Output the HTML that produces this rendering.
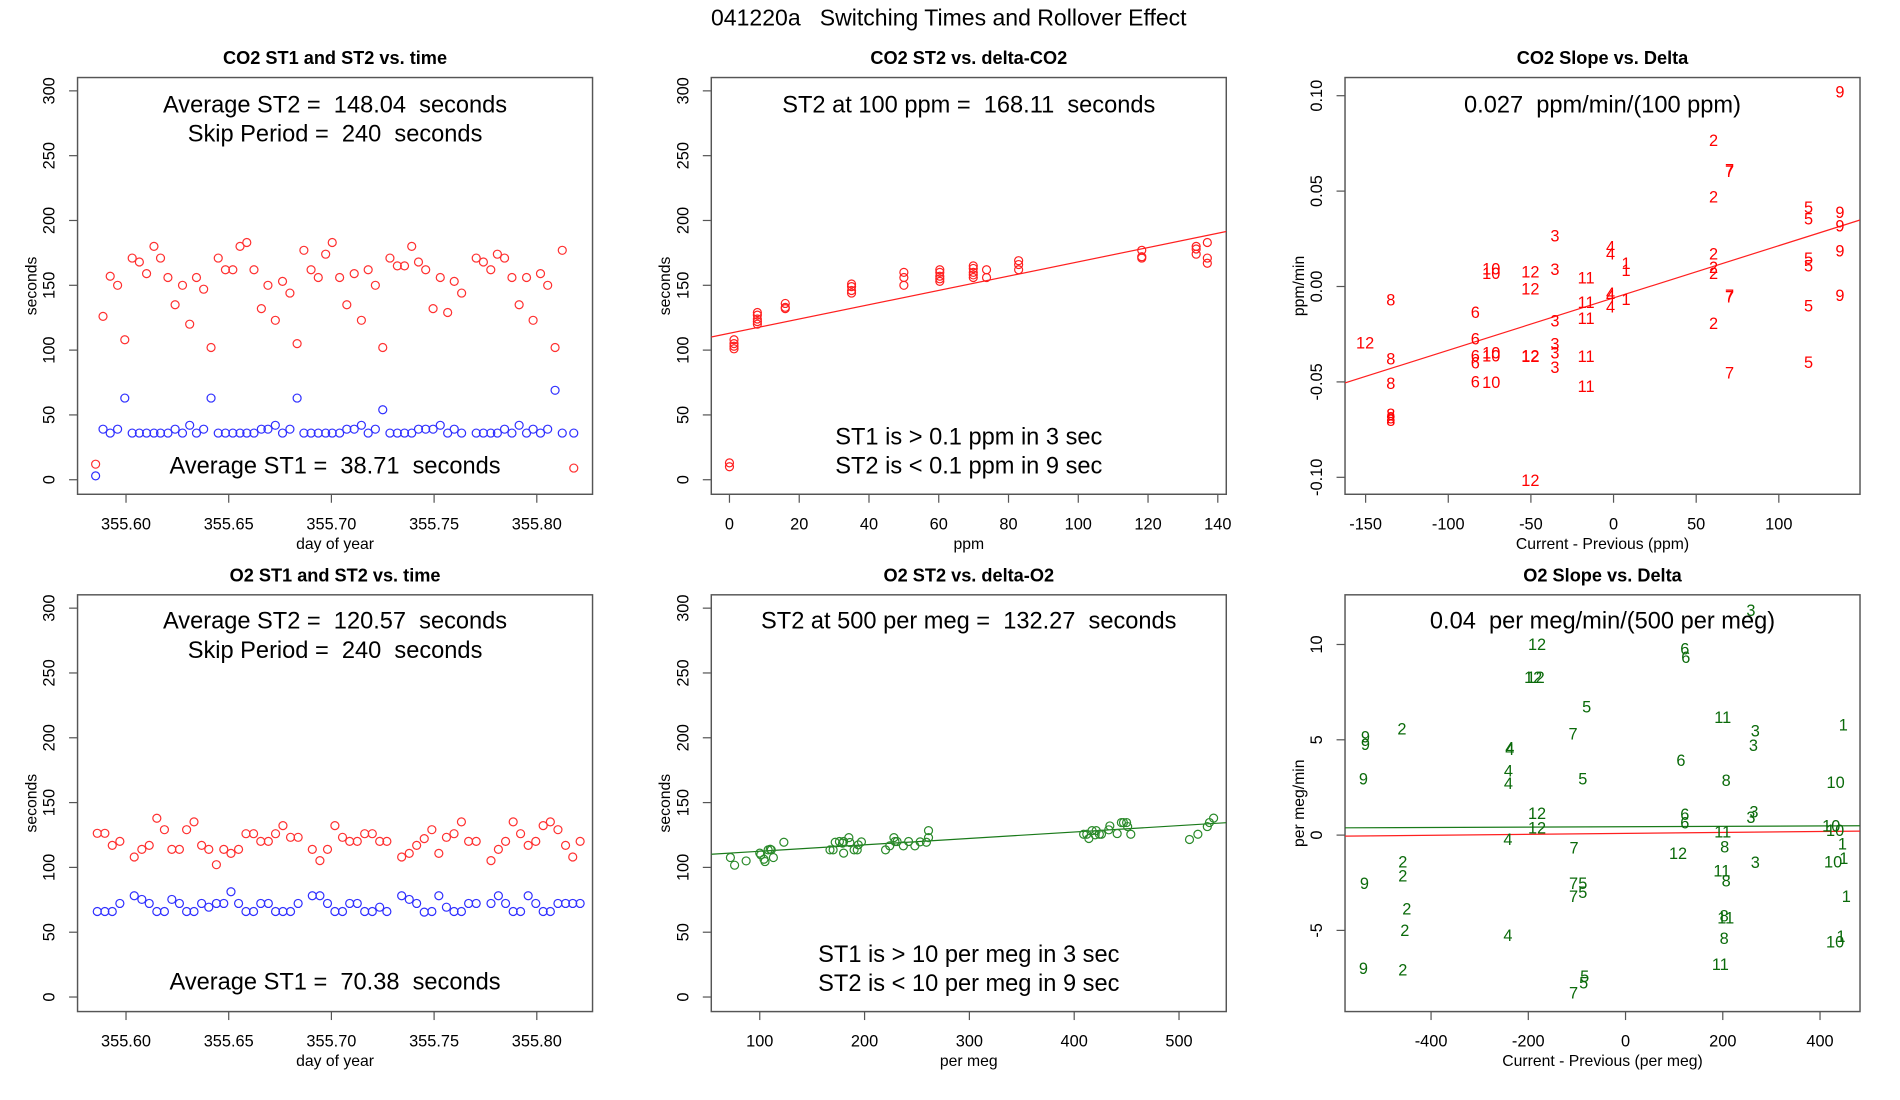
<!DOCTYPE html>
<html><head><meta charset="utf-8"><style>
html,body{margin:0;padding:0;background:#fff;}
svg{display:block;font-family:"Liberation Sans",Arial,sans-serif;}
.pre{white-space:pre;}
</style></head><body>
<svg id="fig" width="1900" height="1100" viewBox="0 0 1568 908" preserveAspectRatio="none" xmlns="http://www.w3.org/2000/svg">
<rect width="1568" height="908" fill="#fff"/>
<text class="pre" x="783" y="21" font-size="19" text-anchor="middle">041220a   Switching Times and Rollover Effect</text>
</svg>
<script>
// ---- Panel A: CO2 ST1/ST2 vs time ----
const timesA=[355.5852,355.5888,355.5923,355.5959,355.5994,355.6030,355.6065,355.6100,355.6136,355.6168,355.6204,355.6239,355.6275,355.6310,355.6343,355.6378,355.6414,355.6449,355.6484,355.6520,355.6555,355.6588,355.6623,355.6659,355.6691,355.6727,355.6762,355.6798,355.6833,355.6866,355.6901,355.6936,355.6972,355.7004,355.7040,355.7075,355.7111,355.7146,355.7179,355.7214,355.7250,355.7285,355.7321,355.7356,355.7391,355.7424,355.7459,355.7495,355.7530,355.7566,355.7598,355.7634,355.7705,355.7740,355.7776,355.7808,355.7843,355.7879,355.7914,355.7950,355.7982,355.8018,355.8053,355.8089,355.8124,355.8180];
const st2A=[12,126,157,150,108,171,168,159,180,171,156,135,150,120,156,147,102,171,162,162,180,183,162,132,150,123,153,144,105,177,162,156,174,183,156,135,159,123,162,150,102,171,165,165,180,168,162,132,156,129,153,144,171,168,162,174,171,156,135,156,123,159,150,102,177,9];
const st1A=[3,39,36,39,63,36,36,36,36,36,36,39,36,42,36,39,63,36,36,36,36,36,36,39,39,42,36,39,63,36,36,36,36,36,36,39,39,42,36,39,54,36,36,36,36,39,39,39,42,36,39,36,36,36,36,36,39,36,42,36,39,36,39,69,36,36];
// ---- Panel B: CO2 ST2 vs delta ----
const ppmB=[1.3,1.3,1.3,1.3,0,0,8,8,8,8,8,16,16,16,35,35,35,35,50,50,50,60.3,60.3,60.3,60.3,60.3,69.9,69.9,69.9,69.9,69.9,73.7,73.7,82.9,82.9,82.9,118.2,118.2,118.2,133.8,133.8,133.8,137,137,137];
const st2B=[108,105,103,101,13,10,129,127,124,122,120,136,133,132,151,149,146,144,160,156,150,162,160,157,155,153,165,163,160,158,156,162,156,169,166,162,177,172,171,180,178,174,183,171,167];
const fitB=[113.0,0.551];
// ---- Panel C: CO2 slope vs delta ----
const labC=["9","2","7","7","2","5","5","9","9","3","4","4","9","2","5","5","1","1","2","2","10","10","12","3","11","12","8","4","4","1","7","7","9","11","4","5","6","3","11","2","12","6","3","3","10","10","6","6","12","12","11","8","5","3","7","6","10","8","11","8","8","8","12"];
const dxC=[137,60.5,70.2,70.2,60.5,118,118,137,137,-35.5,-1.8,-1.8,137,60.5,118,118,7.6,7.6,60.5,60.5,-74,-74,-50.3,-35.5,-16.6,-50.3,-134.8,-1.8,-1.8,7.6,70.2,70.2,137,-16.6,-1.8,118,-83.6,-35.5,-16.6,60.5,-150.3,-83.6,-35.5,-35.5,-74,-74,-83.6,-83.6,-50.3,-50.3,-16.6,-134.8,118,-35.5,70.2,-83.6,-74,-134.8,-16.6,-134.8,-134.8,-134.8,-50.3];
const slopeC=[0.102,0.0767,0.0612,0.0603,0.047,0.0414,0.0354,0.039,0.0318,0.0267,0.0207,0.0171,0.0188,0.0171,0.0147,0.0109,0.0122,0.0085,0.01,0.007,0.0094,0.007,0.0077,0.0089,0.0045,-0.0011,-0.007,-0.0036,-0.0049,-0.0066,-0.0047,-0.0053,-0.0047,-0.0083,-0.0107,-0.01,-0.0134,-0.0179,-0.0168,-0.0192,-0.0296,-0.0273,-0.0301,-0.0348,-0.0348,-0.0363,-0.0363,-0.0401,-0.0362,-0.0367,-0.0367,-0.0379,-0.0397,-0.0424,-0.0452,-0.0499,-0.0503,-0.0508,-0.0524,-0.0669,-0.0687,-0.07,-0.1017];
const fitC=[-0.0060,0.000274];
// ---- Panel D: O2 ST1/ST2 vs time ----
const timesD=[355.5860,355.5897,355.5933,355.5970,355.6040,355.6077,355.6113,355.6150,355.6187,355.6223,355.6260,355.6295,355.6331,355.6368,355.6403,355.6440,355.6476,355.6511,355.6548,355.6584,355.6621,355.6656,355.6693,355.6728,355.6764,355.6801,355.6838,355.6907,355.6944,355.6981,355.7017,355.7054,355.7089,355.7126,355.7162,355.7199,355.7235,355.7270,355.7342,355.7379,355.7415,355.7452,355.7489,355.7523,355.7560,355.7597,355.7633,355.7668,355.7705,355.7777,355.7813,355.7848,355.7885,355.7921,355.7958,355.7995,355.8031,355.8066,355.8103,355.8140,355.8175,355.8211];
const st2D=[126.3,126.3,117.0,120.1,108.0,113.9,117.0,137.9,129.1,113.9,113.9,129.1,135.1,117.0,113.9,102.1,113.9,110.8,113.9,126.0,126.0,120.1,120.1,126.0,132.2,123.2,123.2,113.9,105.2,113.9,132.2,123.2,120.1,120.1,126.0,126.0,120.1,120.1,108.0,110.8,117.0,122.2,129.1,110.8,123.2,126.0,135.1,120.1,120.1,105.2,113.9,120.1,135.1,126.0,117.0,120.1,132.2,135.1,129.1,117.0,108.0,120.1];
const st1D=[66,66,66,72.2,78.1,75.3,72.2,66,66,75.3,72.2,66,66,72.2,69.3,72.2,72.2,81.2,72.2,66,66,72.2,72.2,66,66,66,72.2,78.1,78.1,72.2,66,66,72.2,72.2,66,66,69.3,66,78.1,75.3,72.2,65.5,66,78.1,69.3,66,66,72.2,72.2,72.2,78.1,72.2,66,66,78.1,72.2,66,66,72.2,72.2,72.2,72.2];
// ---- Panel E: O2 ST2 vs delta ----
const pmE=[72,76,87,100,101,105,104,108,110,111,113,123,167,170,172,176,179,180,180,185,186,190,193,194,197,220,224,228,229,231,237,242,248,253,259,261,261,409,412,414,417,420,421,424,426,433,434,441,445,447,450,451,454,510,518,527,529,533];
const st2E=[107.6,101.7,105.0,111.0,109.7,104.5,106.3,113.5,114.0,113.5,107.6,119.4,113.5,113.5,119.4,120.0,118.7,111.0,120.0,123.0,119.2,113.5,113.5,117.4,119.7,113.5,116.6,123.0,120.0,120.0,116.6,120.0,116.6,119.7,119.4,123.0,128.4,125.6,125.6,122.3,128.4,125.1,128.4,125.6,125.6,129.0,132.0,126.1,134.6,134.6,134.6,131.5,125.6,121.5,125.6,131.5,134.6,138.0];
const fitE=[107.5,0.0495];
// ---- Panel F: O2 slope vs delta ----
const labF=["3","12","6","6","12","12","5","11","2","1","3","7","9","9","3","4","4","6","4","9","5","8","10","4","12","6","3","3","6","10","10","12","11","4","1","8","7","12","2","10","1","3","11","2","8","9","7","5","7","5","1","2","8","11","2","4","8","10","1","11","9","2","5","5","7"];
const dxF=[258,-182,122,124,-190,-185,-80,200,-460,448,267,-108,-535,-535,263,-238,-238,114,-241,-539,-88,207,432,-241,-182,122,264,258,122,423,431,-182,200,-242,446,204,-106,108,-458,427,449,267,198,-458,207,-537,-107,-88,-107,-88,454,-450,203,206,-454,-242,203,431,443,195,-539,-458,-84,-86,-107];
const slopeF=[11.79,10.0,9.77,9.34,8.27,8.27,6.74,6.19,5.58,5.79,5.46,5.32,5.15,4.77,4.71,4.58,4.51,3.93,3.36,2.95,2.95,2.88,2.77,2.72,1.13,1.08,1.21,0.94,0.64,0.49,0.24,0.38,0.16,-0.22,-0.45,-0.61,-0.66,-0.95,-1.40,-1.40,-1.21,-1.44,-1.87,-2.13,-2.39,-2.53,-2.53,-2.53,-3.22,-3.00,-3.22,-3.86,-4.24,-4.33,-4.99,-5.25,-5.42,-5.60,-5.30,-6.77,-6.98,-7.07,-7.42,-7.76,-8.28];
const fitFgreen=[0.44,0.0001];
const fitFred=[0.09,0.00025];

const NS="http://www.w3.org/2000/svg";
const svg=document.getElementById('fig');
function el(tag,attrs,parent){const e=document.createElementNS(NS,tag);for(const k in attrs)e.setAttribute(k,attrs[k]);(parent||svg).appendChild(e);return e;}
function linI(d0,d1,p0,p1){const f=v=>p0+(v-d0)*(p1-p0)/(d1-d0);f.inv=p=>d0+(p-p0)*(d1-d0)/(p1-p0);return f;}

function panel(o){
  const g=el('g',{});
  
  
  const cid='clip-'+o.name;
  const cp=el('clipPath',{id:cid},g);el('rect',{x:o.L,y:o.T,width:o.R-o.L,height:o.B-o.T},cp);
  const box=el('rect',{x:o.L,y:o.T,width:o.R-o.L,height:o.B-o.T,fill:'none',stroke:'#555','stroke-width':1.2},g);
  
  
  const t=el('text',{x:(o.L+o.R)/2,y:o.T-11,'font-size':15,'font-weight':'bold','text-anchor':'middle'},g);t.textContent=o.title;
  
  
  o.xt.forEach((v,i)=>{const px=o.x(v);
    el('line',{x1:px,x2:px,y1:o.B,y2:o.B+7,stroke:'#555','stroke-width':1},g);
    const tx=el('text',{x:px,y:o.B+29,'font-size':13.5,'text-anchor':'middle'},g);tx.textContent=o.xl[i];
    
    });
  el('line',{x1:o.x(o.xt[0]),x2:o.x(o.xt[o.xt.length-1]),y1:o.B,y2:o.B,stroke:'#555'},g);
  o.yt.forEach((v,i)=>{const py=o.y(v);
    el('line',{x1:o.L,x2:o.L-7,y1:py,y2:py,stroke:'#555','stroke-width':1},g);
    const ty=el('text',{x:o.L-19,y:py,'font-size':13.5,'text-anchor':'middle',transform:`rotate(-90 ${o.L-19} ${py})`},g);ty.textContent=o.yl[i];
    
    });
  const xa=el('text',{x:(o.L+o.R)/2,y:o.B+45,'font-size':13,'text-anchor':'middle'},g);xa.textContent=o.xlab;
  
  
  const yc=(o.T+o.B)/2;
  const ya=el('text',{x:o.L-34,y:yc,'font-size':13,'text-anchor':'middle',transform:`rotate(-90 ${o.L-34} ${yc})`},g);ya.textContent=o.ylab;
  
  
  (o.notes||[]).forEach(n=>{const a=el('text',{x:(o.L+o.R)/2,y:n[1],'font-size':19.5,'text-anchor':'middle','class':'pre'},g);a.textContent=n[0];
    
    });
  const pg=el('g',{'clip-path':`url(#${cid})`},g);
  return pg;
}
function circles(pg,o,xs,ys,col,name){xs.forEach((v,i)=>{const c=el('circle',{cx:o.x(v),cy:o.y(ys[i]),r:3.3,fill:'none',stroke:col,'stroke-width':1},pg);
  
  });}
function labels(pg,o,xs,ys,labs,col,name){xs.forEach((v,i)=>{const t=el('text',{x:o.x(v),y:o.y(ys[i])+4.7,'font-size':13.5,'text-anchor':'middle',fill:col},pg);t.textContent=labs[i];
  
  });}
function fitline(pg,o,fit,col,name){const x0=o.x.inv(o.L),x1=o.x.inv(o.R);
  const l=el('line',{x1:o.L,x2:o.R,y1:o.y(fit[0]+fit[1]*x0),y2:o.y(fit[0]+fit[1]*x1),stroke:col,'stroke-width':1},pg);
  
  }

const secT=[0,50,100,150,200,250,300],secL=secT.map(String);
const dayT=[355.60,355.65,355.70,355.75,355.80],dayL=["355.60","355.65","355.70","355.75","355.80"];
// A
let o={name:'co2-time-panel',L:64,R:489,T:64,B:408,x:linI(355.60,355.80,104,443),y:linI(0,300,396,75),title:'CO2 ST1 and ST2 vs. time',xt:dayT,xl:dayL,yt:secT,yl:secL,xlab:'day of year',ylab:'seconds',
 notes:[['Average ST2 =  148.04  seconds',93],['Skip Period =  240  seconds',117],['Average ST1 =  38.71  seconds',391]]};
let pg=panel(o);circles(pg,o,timesA,st2A,'#ff3030','st2-point');circles(pg,o,timesA,st1A,'#3030ff','st1-point');
// B
o={name:'co2-delta-panel',L:587,R:1012,T:64,B:408,x:linI(0,140,602,1005),y:linI(0,300,396,75),title:'CO2 ST2 vs. delta-CO2',xt:[0,20,40,60,80,100,120,140],xl:["0","20","40","60","80","100","120","140"],yt:secT,yl:secL,xlab:'ppm',ylab:'seconds',
 notes:[['ST2 at 100 ppm =  168.11  seconds',93],['ST1 is > 0.1 ppm in 3 sec',367],['ST2 is < 0.1 ppm in 9 sec',391]]};
pg=panel(o);fitline(pg,o,fitB,'#ff2020','fit-line');circles(pg,o,ppmB,st2B,'#ff2020','st2-point');
// C
o={name:'co2-slope-panel',L:1110,R:1535,T:64,B:408,x:linI(-150,100,1127,1468),y:linI(-0.10,0.10,394,79),title:'CO2 Slope vs. Delta',xt:[-150,-100,-50,0,50,100],xl:["-150","-100","-50","0","50","100"],yt:[-0.10,-0.05,0,0.05,0.10],yl:["-0.10","-0.05","0.00","0.05","0.10"],xlab:'Current - Previous (ppm)',ylab:'ppm/min',
 notes:[['0.027  ppm/min/(100 ppm)',93]]};
pg=panel(o);fitline(pg,o,fitC,'#ff2020','fit-line');labels(pg,o,dxC,slopeC,labC,'#ff0000','month-label');
// D
o={name:'o2-time-panel',L:64,R:489,T:491,B:835,x:linI(355.60,355.80,104,443),y:linI(0,300,823,502),title:'O2 ST1 and ST2 vs. time',xt:dayT,xl:dayL,yt:secT,yl:secL,xlab:'day of year',ylab:'seconds',
 notes:[['Average ST2 =  120.57  seconds',519],['Skip Period =  240  seconds',543],['Average ST1 =  70.38  seconds',817]]};
pg=panel(o);circles(pg,o,timesD,st2D,'#ff3030','st2-point');circles(pg,o,timesD,st1D,'#3030ff','st1-point');
// E
o={name:'o2-delta-panel',L:587,R:1012,T:491,B:835,x:linI(100,500,627,973),y:linI(0,300,823,502),title:'O2 ST2 vs. delta-O2',xt:[100,200,300,400,500],xl:["100","200","300","400","500"],yt:secT,yl:secL,xlab:'per meg',ylab:'seconds',
 notes:[['ST2 at 500 per meg =  132.27  seconds',519],['ST1 is > 10 per meg in 3 sec',794],['ST2 is < 10 per meg in 9 sec',818]]};
pg=panel(o);fitline(pg,o,fitE,'#1a7a1a','fit-line');circles(pg,o,pmE,st2E,'#2a8a2a','st2-point');
// F
o={name:'o2-slope-panel',L:1110,R:1535,T:491,B:835,x:linI(-400,400,1181,1502),y:linI(-5,10,768,532),title:'O2 Slope vs. Delta',xt:[-400,-200,0,200,400],xl:["-400","-200","0","200","400"],yt:[-5,0,5,10],yl:["-5","0","5","10"],xlab:'Current - Previous (per meg)',ylab:'per meg/min',
 notes:[['0.04  per meg/min/(500 per meg)',519]]};
pg=panel(o);fitline(pg,o,fitFgreen,'#1a7a1a','fit-line-green');fitline(pg,o,fitFred,'#ff2020','fit-line-red');labels(pg,o,dxF,slopeF,labF,'#0a6a0a','month-label');
</script>
</body></html>
